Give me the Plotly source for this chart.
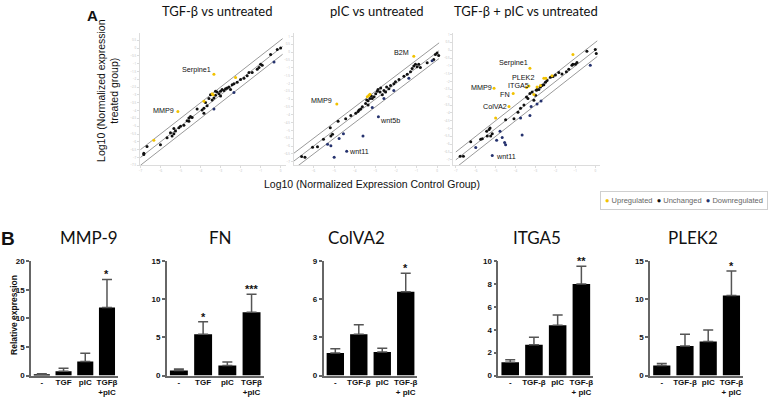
import plotly.graph_objects as go

# ---- Panel A: log10 normalized expression, treated vs control group ----
tgf_unch_x = [-6.83, -6.83, -6.67, -6.0, -5.67, -5.42, -5.33, -5.5, -5.25, -5.33, -5.0, -4.83, -4.67, -4.58,
              -4.42, -4.5, -4.17, -3.92, -3.83, -3.67, -3.75, -3.58, -3.42, -3.33, -3.25, -3.17, -3.08, -3.0,
              -2.92, -2.83, -2.75, -2.67, -2.58, -2.5, -2.42, -2.33, -2.17, -2.0, -1.83, -1.67, -1.58, -1.42,
              -1.17, -1.08, -1.0, -0.92, -0.5, -0.17, 0.0, -3.5, -3.25, -3.0, -3.83, -4.58, -5.08]
tgf_unch_y = [-6.81, -6.73, -6.29, -6.19, -5.73, -5.63, -5.48, -5.42, -5.31, -5.15, -5.0, -4.94, -4.65, -4.48,
              -4.44, -4.38, -3.9, -3.96, -3.85, -3.69, -3.48, -3.23, -3.33, -3.19, -3.02, -2.81, -2.92, -2.77,
              -2.65, -2.71, -2.6, -2.56, -2.5, -2.65, -2.35, -2.29, -2.19, -2.02, -1.94, -1.77, -1.56, -1.56,
              -1.35, -1.25, -1.04, -1.1, -0.42, -0.1, 0.0, -2.98, -2.77, -3.06, -4.17, -4.69, -5.1]
tgf_up_x = [-3.33, -5.13, -6.33, -3.83, -3.42, -3.37, -2.25]
tgf_up_y = [-1.67, -4.06, -5.9, -3.4, -2.92, -2.98, -1.88]
tgf_down_x = [-3.33, -2.33, -0.33]
tgf_down_y = [-3.9, -2.85, -0.9]
tgf_labels = [("Serpine1", "up", 0), ("MMP9", "up", 1)]

pic_unch_x = [-6.58, -6.42, -6.05, -5.81, -5.52, -5.19, -5.16, -5.08, -4.81, -4.44, -4.19, -3.95, -3.79, -3.71,
              -3.63, -3.47, -3.35, -3.26, -3.19, -3.15, -3.06, -2.98, -2.9, -2.87, -2.77, -2.74, -2.66, -2.58,
              -2.5, -2.45, -2.34, -2.26, -2.1, -2.02, -1.85, -1.61, -1.45, -1.29, -1.21, -1.13, -1.05, -0.97,
              -0.89, -0.81, -0.48, -0.16, -0.08, 0.0, 0.08, -3.35, -3.84, -3.42]
pic_unch_y = [-6.67, -6.71, -6.08, -6.04, -5.56, -4.83, -5.35, -5.25, -4.42, -4.25, -4.04, -3.9, -3.69, -3.63,
              -3.48, -3.27, -3.1, -2.96, -2.79, -2.96, -2.85, -2.65, -2.5, -2.38, -2.54, -2.29, -2.71, -2.44,
              -2.54, -2.23, -2.33, -2.13, -2.02, -1.88, -1.75, -1.54, -1.4, -1.25, -1.04, -0.88, -0.77, -0.92,
              -0.77, -0.98, -0.67, -0.46, -0.15, -0.04, -0.21, -3.38, -3.79, -3.06]
pic_up_x = [-1.13, -4.87, -3.39, -3.31, -3.26]
pic_up_y = [-0.25, -3.31, -2.85, -2.75, -2.69]
pic_down_x = [-5.32, -5.16, -4.76, -4.55, -5.0, -4.39, -3.6, -2.85, -3.15, -2.58, -2.1, -1.37, -0.24]
pic_down_y = [-5.88, -5.98, -5.52, -5.21, -6.71, -6.33, -5.35, -4.13, -3.54, -2.96, -2.44, -1.67, -0.54]
pic_labels = [("B2M", "up", 0), ("MMP9", "up", 1), ("wnt5b", "down", 7), ("wnt11", "down", 5)]

combo_unch_x = [-6.78, -6.62, -6.25, -5.67, -5.42, -5.33, -5.28, -5.25, -5.17, -4.5, -4.08, -3.88, -3.75, -3.58,
                -3.45, -3.38, -3.28, -3.17, -3.08, -3.0, -2.95, -2.92, -2.83, -2.75, -2.67, -2.58, -2.5, -2.42,
                -2.25, -2.12, -2.0, -1.83, -1.67, -1.45, -1.33, -1.17, -1.12, -1.0, -0.92, -0.42, 0.0, 0.05,
                -5.75, -5.45]
combo_unch_y = [-6.77, -6.77, -5.85, -5.65, -5.48, -5.06, -4.96, -5.48, -5.33, -4.44, -4.38, -3.96, -3.71, -3.5,
                -2.98, -3.08, -2.77, -2.67, -3.19, -2.88, -2.56, -2.5, -2.5, -2.35, -2.25, -2.21, -2.04, -1.94,
                -1.73, -1.67, -1.58, -1.42, -1.52, -1.38, -1.21, -0.96, -0.9, -0.9, -0.79, -0.06, 0.04, -0.21,
                -5.69, -5.17]
combo_up_x = [-3.28, -5.08, -3.45, -4.12, -4.33, -2.58, -5.0, -3.33, -3.08, -2.92, -2.75, -2.48, -2.17, -1.12]
combo_up_y = [-1.15, -2.42, -2.38, -2.77, -3.6, -1.79, -4.33, -2.29, -2.83, -2.35, -2.25, -1.79, -1.63, -0.27]
combo_down_x = [-6.0, -4.95, -4.78, -4.67, -4.55, -4.5, -5.17, -3.75, -3.67, -3.28, -3.22, -2.92, -2.72, -0.25]
combo_down_y = [-6.21, -5.75, -5.17, -5.58, -5.9, -6.04, -6.73, -4.33, -5.42, -4.17, -3.6, -3.44, -3.25, -0.96]
combo_labels = [("Serpine1", "up", 0), ("MMP9", "up", 1), ("ITGA5", "up", 2), ("FN", "up", 3),
                ("ColVA2", "up", 4), ("PLEK2", "up", 5), ("wnt11", "down", 6)]

diag_span = [-7.0, 0.1]
diag_offsets = [0.5, 0.0, -0.5]

# ---- Panel B: relative expression (mean, SEM) ----
cats_short = ["-", "TGF", "pIC", "TGFβ<br>+pIC"]
cats_long = ["-", "TGF-β", "pIC", "TGF-β<br>+ pIC"]
mmp9_mean = [0.2, 0.75, 2.47, 11.9]
mmp9_sem = [0.1, 0.5, 1.43, 4.9]
mmp9_stars = ["", "", "", "*"]
fn_mean = [0.65, 5.4, 1.3, 8.3]
fn_sem = [0.2, 1.65, 0.48, 2.35]
fn_stars = ["", "*", "", "***"]
colva2_mean = [1.78, 3.25, 1.85, 6.6]
colva2_sem = [0.32, 0.75, 0.3, 1.45]
colva2_stars = ["", "", "", "*"]
itga5_mean = [1.15, 2.7, 4.4, 8.0]
itga5_sem = [0.22, 0.65, 0.9, 1.55]
itga5_stars = ["", "", "", "**"]
plek2_mean = [1.3, 3.87, 4.47, 10.5]
plek2_sem = [0.26, 1.53, 1.5, 3.2]
plek2_stars = ["", "", "", "*"]

W, H = 777, 403
UP, UNCH, DOWN = "#f2c200", "#111111", "#25326e"
ARIAL = "Arial, Liberation Sans, sans-serif"
SANS = "Lato, Open Sans, sans-serif"


def px(x):
    return x / W


def py(y):
    return 1 - y / H


def paper_text(x, y, text, font, **kw):
    """Annotation placed by pixel position, centred on (x, y)."""
    return dict(x=px(x), y=py(y), xref="paper", yref="paper", text=text, showarrow=False,
                xanchor="center", yanchor="middle", font=font, **kw)


fig = go.Figure()
ann = []
layout = {}

# label placement: (xanchor, xshift, yshift)
label_pos = {
    (0, "Serpine1"): ("right", -1, 5), (0, "MMP9"): ("right", -2, 1),
    (1, "B2M"): ("right", -3, 4), (1, "MMP9"): ("right", -3, 4),
    (1, "wnt5b"): ("left", 0, -4), (1, "wnt11"): ("left", 0, 0),
    (2, "Serpine1"): ("right", 0, 6), (2, "PLEK2"): ("right", -8, 1),
    (2, "ITGA5"): ("right", 4, 2), (2, "MMP9"): ("right", 0, 1),
    (2, "FN"): ("right", -1, -1), (2, "ColVA2"): ("right", 0, 0),
    (2, "wnt11"): ("left", 2, -1),
}

scatter_panels = [
    ("TGF-β vs untreated", (139, 285), [-7.03, 0.25], [-7.5, 0.94], 216,
     (tgf_up_x, tgf_up_y), (tgf_unch_x, tgf_unch_y), (tgf_down_x, tgf_down_y), tgf_labels),
    ("pIC vs untreated", (293, 450), [-6.97, 0.65], [-7.23, 1.21], 376,
     (pic_up_x, pic_up_y), (pic_unch_x, pic_unch_y), (pic_down_x, pic_down_y), pic_labels),
    ("TGF-β + pIC vs untreated", (453, 600), [-7.12, 0.25], [-7.35, 1.08], 526,
     (combo_up_x, combo_up_y), (combo_unch_x, combo_unch_y), (combo_down_x, combo_down_y), combo_labels),
]

for i, (title, (x0, x1), xr, yr, tx, up, unch, down, labels) in enumerate(scatter_panels):
    n = i + 1
    xa, ya = f"x{n}", f"y{n}"
    for off in diag_offsets:
        fig.add_trace(go.Scatter(
            x=diag_span, y=[v + off for v in diag_span], mode="lines",
            line={"color": "#9a9a9a", "width": 1}, xaxis=xa, yaxis=ya,
            showlegend=False, hoverinfo="skip"))
    groups = {"up": up, "down": down}
    for (gx, gy), col in ((unch, UNCH), (down, DOWN), (up, UP)):
        fig.add_trace(go.Scatter(
            x=gx, y=gy, mode="markers", marker={"color": col, "size": 3},
            xaxis=xa, yaxis=ya, showlegend=False))
    for gene, grp, k in labels:
        anchor, xs, ys = label_pos[(i, gene)]
        ann.append(dict(x=groups[grp][0][k], y=groups[grp][1][k], xref=xa, yref=ya, text=gene,
                        showarrow=False, xanchor=anchor, yanchor="middle", xshift=xs, yshift=ys,
                        font={"family": ARIAL, "size": 7.2, "color": "#111"}))
    suffix = "" if n == 1 else str(n)
    layout["xaxis" + suffix] = dict(
        domain=[px(x0), px(x1)], range=xr, anchor=ya, dtick=1,
        showline=True, linecolor="#dcdcdc", ticks="outside", ticklen=2, tickcolor="#dcdcdc",
        tickfont={"size": 3, "color": "#bdbdbd"}, showgrid=False, zeroline=False)
    layout["yaxis" + suffix] = dict(
        domain=[py(165), py(30)], range=yr, anchor=xa, dtick=0.5,
        showline=True, linecolor="#dcdcdc", ticks="outside", ticklen=2, tickcolor="#dcdcdc",
        tickfont={"size": 3, "color": "#bdbdbd"}, showgrid=False, zeroline=False)
    ann.append(paper_text(tx, 7, title, {"family": SANS, "size": 13, "color": "#111"}))

ann.append(paper_text(92, 12, "<b>A</b>", {"family": ARIAL, "size": 15, "color": "#111"}))
ann.append(paper_text(107, 88, "Log10 (Normalized expression<br>treated group)",
                      {"family": ARIAL, "size": 10.5, "color": "#111"}, textangle=-90))
ann.append(paper_text(371, 184, "Log10 (Normalized Expression Control Group)",
                      {"family": ARIAL, "size": 10.5, "color": "#111"}))
ann.append(paper_text(
    684, 201,
    (f"<span style='color:{UP}'>●</span> Upregulated  "
     f"<span style='color:{UNCH}'>●</span> Unchanged  "
     f"<span style='color:{DOWN}'>●</span> Downregulated"),
    {"family": ARIAL, "size": 7.5, "color": "#666"},
    bordercolor="#cfcfcf", borderwidth=1, borderpad=4, bgcolor="white"))

# ---- Panel B bars ----
bar_panels = [
    ("MMP-9", cats_short, mmp9_mean, mmp9_sem, mmp9_stars, 20, 5, (30, 117), 88),
    ("FN", cats_short, fn_mean, fn_sem, fn_stars, 15, 5, (166, 263), 220),
    ("ColVA2", cats_long, colva2_mean, colva2_sem, colva2_stars, 9, 3, (323, 417), 356),
    ("ITGA5", cats_long, itga5_mean, itga5_sem, itga5_stars, 10, 2, (498, 593), 537),
    ("PLEK2", cats_long, plek2_mean, plek2_sem, plek2_stars, 15, 5, (650, 743), 693),
]

for j, (title, cats, mean, sem, stars, top, dt, (x0, x1), tx) in enumerate(bar_panels):
    n = j + 4
    xa, ya = f"x{n}", f"y{n}"
    fig.add_trace(go.Bar(
        x=cats, y=mean, width=0.74, marker={"color": "black", "line": {"width": 0}},
        error_y={"type": "data", "array": sem, "arrayminus": [0] * len(sem), "symmetric": False,
                 "color": "#555", "thickness": 1.5, "width": 5},
        xaxis=xa, yaxis=ya, showlegend=False))
    for c, m, s, st in zip(cats, mean, sem, stars):
        if st:
            ann.append(dict(x=c, y=m + s, xref=xa, yref=ya, text=st, showarrow=False,
                            xanchor="center", yanchor="bottom", yshift=-3,
                            font={"family": ARIAL, "size": 11, "color": "#111", "weight": "bold"}))
    layout[f"xaxis{n}"] = dict(
        domain=[px(x0), px(x1)], anchor=ya, type="category", range=[-0.5, 3.5],
        showline=True, linecolor="#666", linewidth=1.5, ticks="", showgrid=False,
        ticklabelstandoff=-2,
        tickfont={"family": ARIAL, "size": 8, "color": "#111", "weight": "bold"})
    layout[f"yaxis{n}"] = dict(
        domain=[py(380), py(263)], anchor=xa, range=[0, top], dtick=dt,
        showline=True, linecolor="#666", linewidth=1.5, ticks="outside", ticklen=3,
        tickwidth=1.5, tickcolor="#666", showgrid=False, zeroline=False,
        tickfont={"family": ARIAL, "size": 8, "color": "#111", "weight": "bold"})
    ann.append(paper_text(tx, 239, title, {"family": SANS, "size": 17, "color": "#111"}))

ann.append(paper_text(7, 240, "<b>B</b>", {"family": ARIAL, "size": 19, "color": "#111"}))
ann.append(paper_text(13, 318, "<b>Relative expression</b>",
                      {"family": ARIAL, "size": 8.5, "color": "#111"}, textangle=-90))

fig.update_layout(
    width=W, height=H, margin={"l": 0, "r": 0, "t": 0, "b": 0},
    paper_bgcolor="white", plot_bgcolor="white", showlegend=False,
    annotations=ann, bargap=0.2, **layout)

# the page's default body margin would push the figure 8px right/down
fig.write_html("out.html", config={"displayModeBar": False},
               post_script="document.body.style.margin = '0';")
